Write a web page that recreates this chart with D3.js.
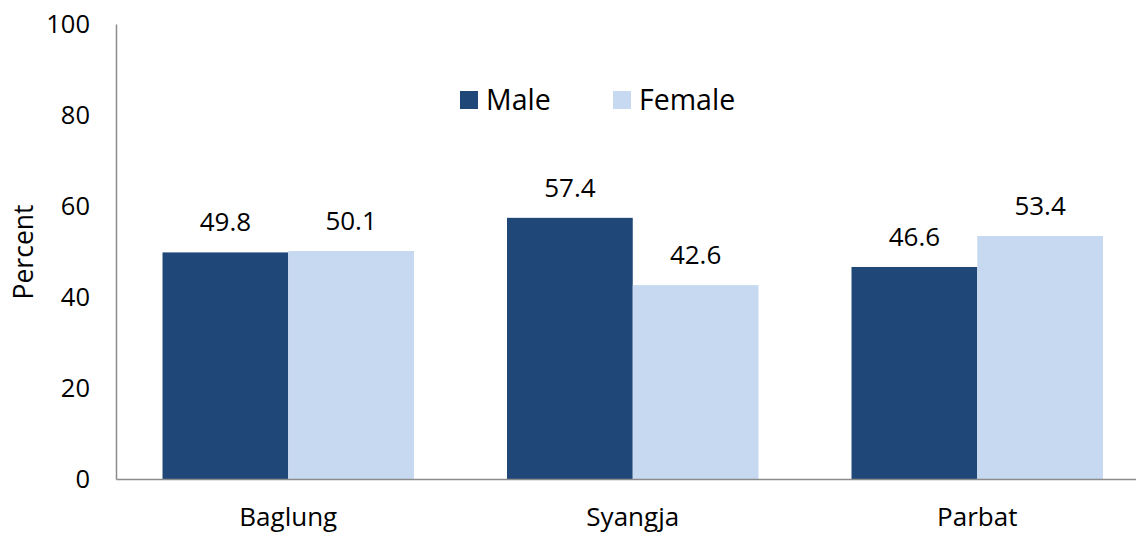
<!DOCTYPE html>
<html><head><meta charset="utf-8">
<script src="https://cdn.jsdelivr.net/npm/d3@7"></script>
<style>body{margin:0;background:#fff}svg{display:block}text{font-family:"Open Sans","Noto Sans",sans-serif;fill:#000}</style>
</head><body>
<svg id="c" width="1136" height="535"></svg>
<script>
const categories = ["Baglung", "Syangja", "Parbat"];
const seriesNames = ["Male", "Female"];
const maleValues = [49.8, 57.4, 46.6];
const femaleValues = [50.1, 42.6, 53.4];
const yTicks = [0, 20, 40, 60, 80, 100];
const colors = ["#1f4878", "#c6d9f1"];
const FONT = '"Open Sans","Noto Sans",sans-serif';

const svg = d3.select("#c");
const x0 = d3.scaleBand().domain(categories).range([116, 1149.5]).paddingInner(0).paddingOuter(0);
const groupPad = 0.135;
const x1 = d3.scaleBand().domain(seriesNames)
  .range([x0.bandwidth()*groupPad, x0.bandwidth()*(1-groupPad)]);
const y = d3.scaleLinear().domain([0, 100]).range([479, 24]);

const data = categories.map((c, i) => ({cat: c, vals: [maleValues[i], femaleValues[i]]}));

const g = svg.append("g");
data.forEach(d => {
  d.vals.forEach((v, j) => {
    const xx = x0(d.cat) + x1(seriesNames[j]);
    g.append("rect").attr("x", xx).attr("y", y(v))
      .attr("width", x1.bandwidth()).attr("height", y(0) - y(v))
      .attr("fill", colors[j]);
    g.append("text").attr("x", xx + x1.bandwidth()/2).attr("y", y(v) - 21)
      .attr("text-anchor", "middle").attr("font-size", 26).text(v.toFixed(1));
  });
});

// y axis
const ya = svg.append("g").attr("transform", "translate(116,0)")
  .call(d3.axisLeft(y).tickValues(yTicks).tickSize(0).tickPadding(26));
ya.select(".domain").attr("stroke", "#8c8c8c").attr("stroke-width", 1.5);
ya.selectAll("text").attr("font-size", 25.5).style("font-family", FONT).attr("fill", "#000");

// x axis
const xa = svg.append("g").attr("transform", "translate(0,479)")
  .call(d3.axisBottom(x0).tickSize(0).tickPadding(29));
xa.select(".domain").attr("stroke", "#8c8c8c").attr("stroke-width", 1.5);
xa.selectAll("text").attr("font-size", 26).style("font-family", FONT).attr("fill", "#000");

// y label
svg.append("text").attr("transform", "translate(33,252) rotate(-90)")
  .attr("text-anchor", "middle").attr("font-size", 26.5).text("Percent");

// legend
const legendX = [460, 613];
seriesNames.forEach((s, j) => {
  svg.append("rect").attr("x", legendX[j]).attr("y", 91).attr("width", 18).attr("height", 18).attr("fill", colors[j]);
  svg.append("text").attr("x", legendX[j] + 26).attr("y", 100).attr("dy", "0.35em")
    .attr("font-size", 28.5).text(s);
});
</script>
</body></html>
